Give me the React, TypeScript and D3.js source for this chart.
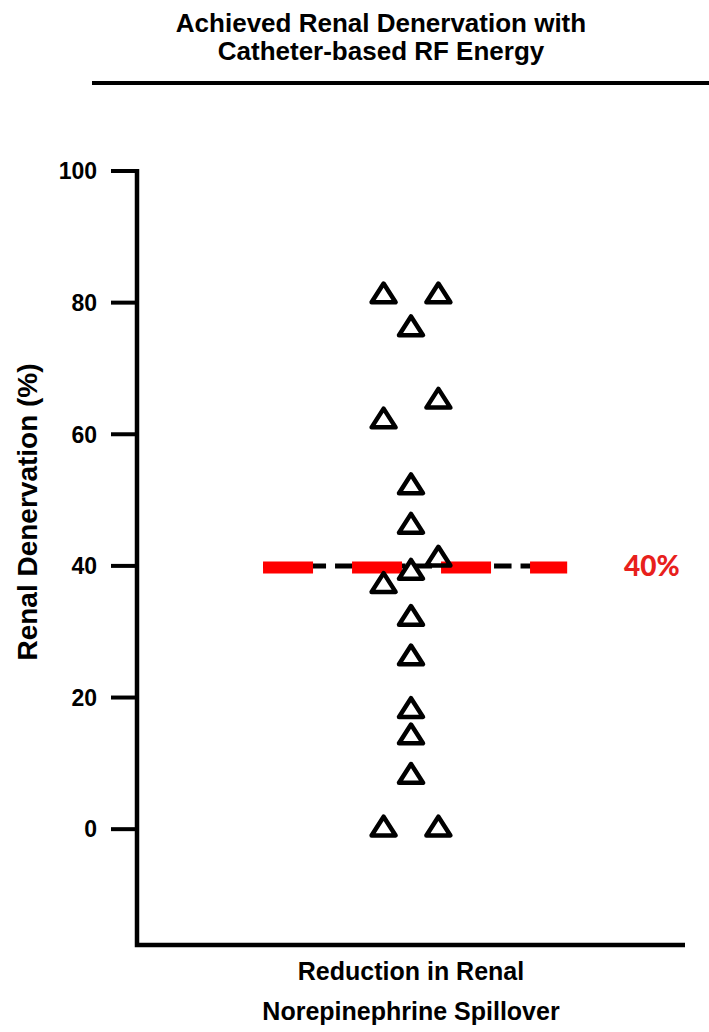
import React from 'react';
import * as d3 from 'd3';

// values (renal denervation, %), by column
const leftCol = [81, 62, 37, 0];
const midCol = [76, 52, 46, 39, 32, 26, 18, 14, 8];
const rightCol = [81, 65, 41, 0];
const colPos = [-1, 0, 1];
const yTicks = [0, 20, 40, 60, 80, 100];
const threshold = 40;
const thresholdLabel = '40%';
const thresholdSpan = [-5.4, 5.7];
const titleLines = ['Achieved Renal Denervation with', 'Catheter-based RF Energy'];
const xLabelLines = ['Reduction in Renal', 'Norepinephrine Spillover'];
const yLabel = 'Renal Denervation (%)';

const W = 709, H = 1032;
const FONT = '"Liberation Sans", Arial, sans-serif';

function App() {
    const y = d3.scaleLinear().domain([-17.6, 100]).range([945, 171]);
    const x = d3.scaleLinear().domain([-10, 10]).range([137, 685]);

    const points = [];
    [leftCol, midCol, rightCol].forEach((col, i) => {
        col.forEach(v => points.push({ col: colPos[i], value: v }));
    });

    // open triangle, centroid at the data point
    const tri = (cx, cy) => {
        const p = d3.path();
        p.moveTo(cx, cy - 12.5);
        p.lineTo(cx + 12, cy + 6.25);
        p.lineTo(cx - 12, cy + 6.25);
        p.closePath();
        return p.toString();
    };

    const x0 = x.range()[0];
    const yTop = y(100);
    const yBot = y.range()[0];

    return (
        <svg width={W} height={H} style={{ position: 'absolute', left: 0, top: 0, background: '#fff' }}>
            <g fontFamily={FONT} fontWeight="bold" fill="#000">
                {titleLines.map((t, i) => (
                    <text key={t} x={381} y={32 + i * 28} textAnchor="middle" fontSize={26}>{t}</text>
                ))}
            </g>
            <line x1={92} x2={W} y1={83} y2={83} stroke="#000" strokeWidth={4} />

            {/* axes */}
            <path d={`M${x0},${yTop - 2}V${yBot}H${x.range()[1]}`} fill="none" stroke="#000" strokeWidth={4.5} />
            {yTicks.map(t => (
                <g key={t}>
                    <line x1={x0 - 26} x2={x0} y1={y(t)} y2={y(t)} stroke="#000" strokeWidth={4} />
                    <text x={x0 - 40} y={y(t)} dy="0.36em" textAnchor="end" fontFamily={FONT} fontWeight="bold" fontSize={23}>{t}</text>
                </g>
            ))}

            {/* 40% threshold */}
            <line x1={x(thresholdSpan[0])} x2={x(thresholdSpan[1])} y1={y(threshold)} y2={y(threshold)}
                stroke="#000" strokeWidth={5} strokeDasharray="17.5,9" strokeDashoffset={7.5} />
            <line x1={x(thresholdSpan[0])} x2={x(thresholdSpan[1])} y1={y(threshold) + 1.5} y2={y(threshold) + 1.5}
                stroke="#ff0000" strokeWidth={12} strokeDasharray="50,39" />
            <text x={624} y={y(threshold)} dy="0.36em" fontFamily="Lato, sans-serif" fontWeight="900" fontSize={28} fill="#e8201c">{thresholdLabel}</text>

            {points.map((d, i) => (
                <path key={i} d={tri(x(d.col), y(d.value))} fill="none" stroke="#000" strokeWidth={4.5} strokeLinejoin="round" />
            ))}

            <g fontFamily={FONT} fontWeight="bold" fontSize={25} textAnchor="middle">
                {xLabelLines.map((t, i) => (
                    <text key={t} x={x(0)} y={980 + i * 40}>{t}</text>
                ))}
            </g>
            <text transform={`translate(37,${512}) rotate(-90)`} textAnchor="middle" fontFamily={FONT} fontWeight="bold" fontSize={28}>{yLabel}</text>
        </svg>
    );
}

export default App;
